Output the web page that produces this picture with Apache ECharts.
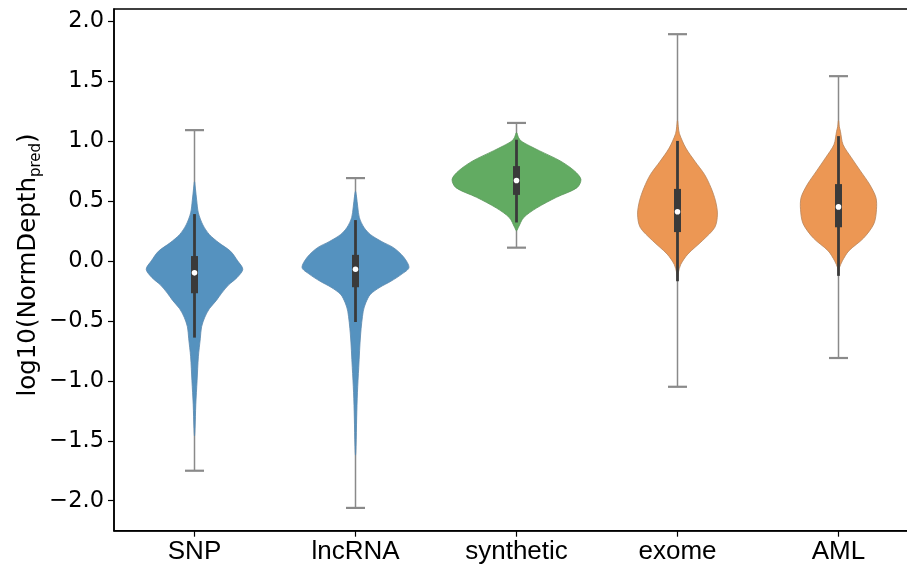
<!DOCTYPE html>
<html>
<head>
<meta charset="utf-8">
<script src="https://cdn.jsdelivr.net/npm/echarts@6/dist/echarts.min.js"></script>
<style>html,body{margin:0;padding:0;background:#fff;overflow:hidden}#chart{width:907px;height:571px}</style>
</head>
<body>
<div id="chart"></div>
<script>
// ---- data ----
const categories = ['SNP', 'lncRNA', 'synthetic', 'exome', 'AML'];
const yTicks = [-2, -1.5, -1, -0.5, 0, 0.5, 1, 1.5, 2];

// summary statistics per category
const statMin     = [-1.75, -2.06, 0.11, -1.05, -0.81];
const whiskerLow  = [-0.64, -0.51, 0.32, -0.17, -0.125];
const q1          = [-0.27, -0.22, 0.55, 0.24, 0.28];
const median      = [-0.10, -0.07, 0.67, 0.41, 0.45];
const q3          = [0.04, 0.05, 0.79, 0.60, 0.64];
const whiskerHigh = [0.39, 0.34, 1.01, 1.00, 1.04];
const statMax     = [1.09, 0.69, 1.15, 1.89, 1.54];

// density profiles: [value, density relative to widest violin]
const snpDensity = [[0.66,0],[0.60,0.015],[0.50,0.035],[0.40,0.06],[0.30,0.13],[0.22,0.23],[0.15,0.38],[0.08,0.56],[0.00,0.67],[-0.07,0.75],[-0.14,0.66],[-0.20,0.53],[-0.27,0.42],[-0.33,0.34],[-0.40,0.23],[-0.47,0.16],[-0.55,0.11],[-0.65,0.09],[-0.80,0.06],[-1.00,0.04],[-1.20,0.02],[-1.40,0.008],[-1.46,0]];
const lncrnaDensity = [[0.58,0],[0.54,0.015],[0.45,0.035],[0.36,0.06],[0.28,0.13],[0.22,0.23],[0.16,0.41],[0.11,0.59],[0.03,0.75],[-0.056,0.83],[-0.11,0.72],[-0.17,0.55],[-0.22,0.38],[-0.28,0.23],[-0.35,0.16],[-0.42,0.12],[-0.61,0.08],[-0.89,0.05],[-1.10,0.03],[-1.31,0.018],[-1.55,0.008],[-1.62,0]];
const syntheticDensity = [[1.07,0],[1.03,0.03],[1.00,0.07],[0.96,0.2],[0.917,0.36],[0.833,0.68],[0.75,0.9],[0.68,1.0],[0.61,0.94],[0.53,0.62],[0.44,0.31],[0.36,0.11],[0.28,0.03],[0.25,0]];
const exomeDensity = [[1.17,0],[1.12,0.012],[1.06,0.03],[0.94,0.13],[0.83,0.27],[0.72,0.42],[0.61,0.52],[0.50,0.59],[0.39,0.62],[0.28,0.58],[0.17,0.39],[0.056,0.16],[-0.03,0.05],[-0.10,0.012],[-0.14,0]];
const amlDensity = [[1.17,0],[1.12,0.012],[1.08,0.03],[0.97,0.07],[0.86,0.2],[0.75,0.34],[0.64,0.48],[0.53,0.58],[0.43,0.59],[0.31,0.55],[0.19,0.39],[0.083,0.16],[0.00,0.06],[-0.06,0.012],[-0.09,0]];
const densities = [snpDensity, lncrnaDensity, syntheticDensity, exomeDensity, amlDensity];

// ---- styles ----
const fillColors = ['#5592bf', '#5592bf', '#62ab62', '#ec9754', '#ec9754'];
const edgeColors = ['#5a88ad', '#5a88ad', '#5a955a', '#b8845a', '#b8845a'];

const chart = echarts.init(document.getElementById('chart'), null, {renderer: 'canvas'});

function renderViolin(params, api) {
  const i = params.dataIndex;
  const band = api.size([1, 0])[0];
  const maxHalf = band * 0.4;
  const cx = api.coord([i, 0])[0];
  const prof = densities[i];
  const right = prof.map(function (p) { const c = api.coord([i, p[0]]); return [cx + p[1] * maxHalf, c[1]]; });
  const left = prof.slice(1, prof.length - 1).reverse().map(function (p) { const c = api.coord([i, p[0]]); return [cx - p[1] * maxHalf, c[1]]; });
  const pts = right.concat(left);
  const yMin = api.coord([i, statMin[i]])[1];
  const yMax = api.coord([i, statMax[i]])[1];
  const yWl = api.coord([i, whiskerLow[i]])[1];
  const yWh = api.coord([i, whiskerHigh[i]])[1];
  const yQ1 = api.coord([i, q1[i]])[1];
  const yQ3 = api.coord([i, q3[i]])[1];
  const yMed = api.coord([i, median[i]])[1];
  const capHalf = 9.5;
  return {
    type: 'group',
    children: [
      {type: 'line', shape: {x1: cx, y1: yMin, x2: cx, y2: yMax}, style: {stroke: '#8a8a8a', lineWidth: 1.5}},
      {type: 'line', shape: {x1: cx - capHalf, y1: yMin, x2: cx + capHalf, y2: yMin}, style: {stroke: '#8a8a8a', lineWidth: 2.2}},
      {type: 'line', shape: {x1: cx - capHalf, y1: yMax, x2: cx + capHalf, y2: yMax}, style: {stroke: '#8a8a8a', lineWidth: 2.2}},
      {type: 'polygon', shape: {points: pts, smooth: 0.3}, style: {fill: fillColors[i], stroke: edgeColors[i], lineWidth: 0.8}},
      {type: 'line', shape: {x1: cx, y1: yWl, x2: cx, y2: yWh}, style: {stroke: '#3a3a3a', lineWidth: 2.8}},
      {type: 'rect', shape: {x: cx - 3.5, y: yQ3, width: 7, height: yQ1 - yQ3}, style: {fill: '#3a3a3a'}},
      {type: 'circle', shape: {cx: cx, cy: yMed, r: 2.8}, style: {fill: '#ffffff'}}
    ]
  };
}

const option = {
  animation: false,
  backgroundColor: '#ffffff',
  grid: {left: 114, top: 9, width: 805, height: 521.7, outerBoundsMode: 'none', containLabel: false, show: true, borderColor: '#000', borderWidth: 1.5, backgroundColor: 'transparent'},
  xAxis: {
    type: 'category',
    data: categories,
    boundaryGap: true,
    axisLine: {show: true, onZero: false, lineStyle: {color: '#000', width: 1.5}},
    axisTick: {show: true, alignWithLabel: true, length: 6, lineStyle: {color: '#000', width: 1.2}},
    axisLabel: {color: '#000', fontSize: 26, fontFamily: 'Liberation Sans', margin: 8},
    splitLine: {show: false}
  },
  yAxis: {
    type: 'value',
    min: -2.25,
    max: 2.1,
    axisLine: {show: true, onZero: false, lineStyle: {color: '#000', width: 1.5}},
    axisTick: {show: true, length: 6, customValues: yTicks, lineStyle: {color: '#000', width: 1.2}},
    axisLabel: {
      customValues: yTicks,
      color: '#000', fontSize: 22.5, fontFamily: 'DejaVu Sans', margin: 10,
      formatter: function (v) { return (v < 0 ? '\u2212' : '') + Math.abs(v).toFixed(1); }
    },
    splitLine: {show: false}
  },
  graphic: [{
    type: 'text',
    x: 29, y: 265,
    rotation: Math.PI / 2,
    style: {
      text: '{a|log10(NormDepth}{b|pred}{a|)}',
      align: 'center', verticalAlign: 'middle',
      fill: '#000',
      rich: {
        a: {fontSize: 24.5, fontFamily: 'DejaVu Sans', fill: '#000', lineHeight: 30},
        b: {fontSize: 15, fontFamily: 'DejaVu Sans', fill: '#000', padding: [14, 0, 0, 0], lineHeight: 30}
      }
    }
  }],
  series: [{
    type: 'custom',
    renderItem: renderViolin,
    encode: {x: 0, y: [1, 2]},
    data: categories.map(function (c, i) { return [i, statMin[i], statMax[i]]; }),
    clip: false,
    z: 2
  }]
};
chart.setOption(option);
</script>
</body>
</html>
